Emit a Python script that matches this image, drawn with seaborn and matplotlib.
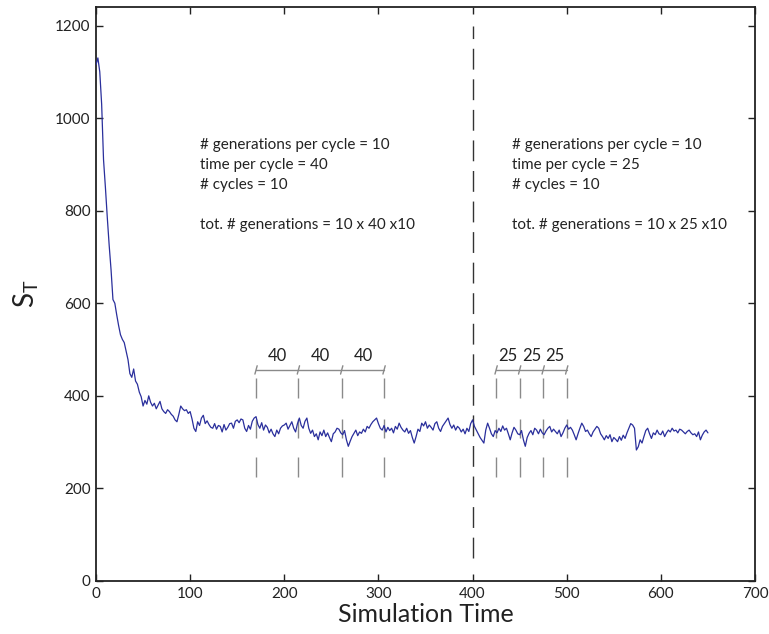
import numpy as np
import pandas as pd
import matplotlib
matplotlib.use("Agg")
import matplotlib.pyplot as plt
import seaborn as sns

# ---------------- data ----------------
time_step = 2
s_t = [
    1115, 1130, 1100, 1030, 910, 850, 785, 725, 672, 608,
    600, 575, 552, 532, 522, 515, 497, 478, 448, 440,
    458, 432, 425, 408, 398, 378, 390, 382, 400, 386,
    378, 384, 372, 380, 388, 372, 366, 362, 370, 366,
    360, 356, 348, 344, 360, 378, 372, 368, 370, 362,
    366, 350, 330, 323, 344, 336, 352, 358, 340, 346,
    338, 332, 330, 340, 328, 336, 334, 322, 338, 326,
    332, 340, 341, 330, 345, 348, 342, 350, 348, 330,
    323, 336, 328, 345, 352, 355, 338, 330, 342, 326,
    337, 332, 320, 328, 318, 312, 326, 318, 330, 335,
    337, 341, 328, 336, 344, 330, 322, 340, 352, 336,
    330, 345, 352, 330, 319, 326, 312, 318, 305, 322,
    314, 326, 312, 320, 310, 301, 318, 322, 330, 328,
    320, 316, 325, 305, 291, 302, 312, 319, 326, 314,
    322, 319, 328, 322, 334, 330, 338, 344, 348, 352,
    340, 330, 326, 336, 322, 332, 325, 330, 320, 334,
    328, 341, 332, 326, 322, 330, 319, 325, 310, 298,
    312, 328, 323, 341, 335, 344, 330, 337, 332, 326,
    340, 344, 330, 323, 334, 340, 346, 352, 338, 330,
    337, 326, 334, 330, 322, 328, 318, 330, 323, 340,
    348, 334, 326, 318, 310, 304, 298, 326, 341, 330,
    318, 312, 325, 320, 330, 323, 335, 326, 330, 318,
    305, 320, 332, 326, 318, 316, 325, 305, 291, 310,
    319, 325, 316, 330, 326, 318, 328, 320, 316, 324,
    330, 334, 322, 328, 323, 318, 326, 312, 320, 330,
    337, 328, 332, 326, 316, 305, 318, 330, 341, 334,
    323, 326, 318, 312, 322, 328, 334, 330, 318, 312,
    305, 314, 308, 316, 301, 310, 306, 301, 312, 304,
    315, 308, 320, 330, 340, 337, 330, 283, 290, 305,
    298, 312, 325, 330, 318, 308, 320, 316, 326, 318,
    316, 324, 312, 320, 326, 322, 330, 324, 326, 320,
    328, 326, 322, 318, 323, 326, 320, 316, 318, 312,
    322, 305, 315, 322, 326, 320,
]
times = np.arange(len(s_t)) * time_step

phase_split = 400
marks_a = [170, 215, 261, 306]
marks_b = [425, 450, 475, 500]
label_a = "40"
label_b = "25"
text_a = ["# generations per cycle = 10", "time per cycle = 40", "# cycles = 10", "",
          "tot. # generations = 10 x 40 x10"]
text_b = ["# generations per cycle = 10", "time per cycle = 25", "# cycles = 10", "",
          "tot. # generations = 10 x 25 x10"]
x_ticks = [0, 100, 200, 300, 400, 500, 600, 700]
y_ticks = [0, 200, 400, 600, 800, 1000, 1200]

df = pd.DataFrame({"Simulation Time": times, "S_T": s_t})

# ---------------- figure ----------------
sns.set_theme(style="ticks")
plt.rcParams["font.family"] = ["Lato", "DejaVu Sans"]

fig = plt.figure(figsize=(7.69, 6.34), dpi=100)
ax = fig.add_axes([96 / 769, 53 / 634, 659 / 769, 574 / 634])

sns.lineplot(data=df, x="Simulation Time", y="S_T", ax=ax, color="#2a2f9c",
             linewidth=0.9, estimator=None, zorder=3)

ax.set_xlim(0, 700)
ax.set_ylim(0, 1240)
ax.set_xticks(x_ticks)
ax.set_yticks(y_ticks)
ax.tick_params(direction="in", length=5, width=1, top=True, right=True,
               labelsize=11, colors="#222222", pad=4)
for sp in ax.spines.values():
    sp.set_visible(True)
    sp.set_color("#222222")
    sp.set_linewidth(1.3)

ax.set_xlabel("Simulation Time", fontsize=18, color="#222222", labelpad=2)
ax.set_ylabel(r"$\mathregular{S_T}$", fontsize=20, color="#222222", labelpad=10)

# dashed phase split
ax.vlines(phase_split, 50, 1200, colors="#333333", linewidth=1.0,
          linestyles=(0, (15, 7)), zorder=2)

# cycle markers
gray = "#8a8a8a"
bar_y = 456
seg_lo = [225, 310, 396]
seg_hi = [268, 350, 439]
for marks, lab in ((marks_a, label_a), (marks_b, label_b)):
    ax.plot([marks[0], marks[-1]], [bar_y, bar_y], color=gray, lw=1.0, zorder=2)
    for m in marks:
        ax.plot([m - 1.2, m + 1.2], [bar_y - 9, bar_y + 9], color=gray, lw=1.0, zorder=2)
        ax.vlines([m] * len(seg_lo), seg_lo, seg_hi, colors=gray, lw=1.0, zorder=2)
    for a, b in zip(marks[:-1], marks[1:]):
        ax.text((a + b) / 2, 486, lab, ha="center", va="center", fontsize=12, color="#222222")

# annotation text blocks
ys = [941, 899, 855, 813, 769]
for x0, lines in ((110.5, text_a), (442, text_b)):
    for y, t in zip(ys, lines):
        if t:
            ax.text(x0, y, t, ha="left", va="center", fontsize=11, color="#222222")

fig.savefig("out.png", dpi=100)
